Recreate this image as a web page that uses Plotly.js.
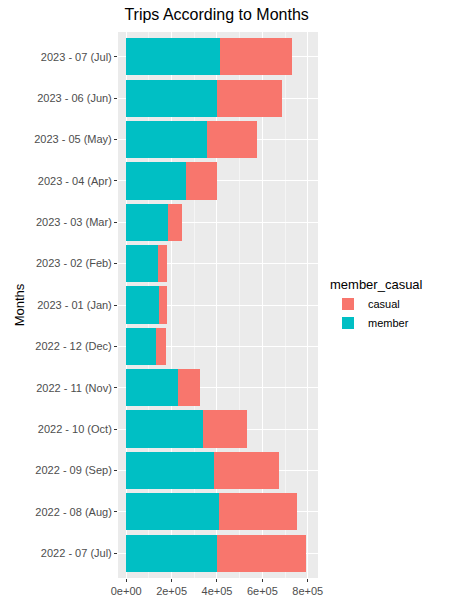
<!DOCTYPE html>
<html><head><script src="https://cdn.plot.ly/plotly-3.0.1.min.js"></script></head>
<body style="margin:0">
<div id="c" style="width:456px;height:610px"></div>
<script>
const months = ["2022 - 07 (Jul)","2022 - 08 (Aug)","2022 - 09 (Sep)","2022 - 10 (Oct)","2022 - 11 (Nov)","2022 - 12 (Dec)","2023 - 01 (Jan)","2023 - 02 (Feb)","2023 - 03 (Mar)","2023 - 04 (Apr)","2023 - 05 (May)","2023 - 06 (Jun)","2023 - 07 (Jul)"];
const member = [398000,407000,389000,337000,228000,131000,144000,140000,184000,262000,354000,398000,415000];
const casual = [394000,345000,285000,197000,96000,44000,35000,39000,61000,140000,223000,289000,315000];
const tickVals = [0,200000,400000,600000,800000];
const tickText = ["0e+00","2e+05","4e+05","6e+05","8e+05"];
const data = [
 {type:'bar',orientation:'h',name:'member',y:months,x:member,marker:{color:'#00BFC4'},width:0.9},
 {type:'bar',orientation:'h',name:'casual',y:months,x:casual,marker:{color:'#F8766D'},width:0.9}
];
Plotly.newPlot('c',data,{
 width:456,height:610,barmode:'stack',
 margin:{l:118,r:138,t:32,b:32},
 paper_bgcolor:'white',plot_bgcolor:'#EBEBEB',
 font:{family:'Liberation Sans, Arial',size:11,color:'#4D4D4D'},
 title:{text:'Trips According to Months',x:0.475,xanchor:'center',y:0.985,yanchor:'top',font:{size:16,color:'black'}},
 xaxis:{tickvals:tickVals,ticktext:tickText,range:[-36000,845000],gridcolor:'white',gridwidth:1.2,zeroline:false,
   minor:{dtick:100000,tick0:100000,gridcolor:'#F5F5F5',gridwidth:0.6},ticks:'outside',ticklen:3,tickcolor:'#333',fixedrange:true},
 yaxis:{type:'category',categoryorder:'array',categoryarray:months,gridcolor:'white',gridwidth:1.2,ticks:'outside',ticklen:3,tickcolor:'#333',
   title:{text:'Months',font:{size:13,color:'black'},standoff:6},range:[-0.6,12.6]},
 legend:{x:1.05,y:0.5,yanchor:'middle',traceorder:'reversed',title:{text:'member_casual',font:{size:13,color:'black'}},font:{size:11,color:'black'}},
 showlegend:true
},{displayModeBar:false});
</script></body></html>
